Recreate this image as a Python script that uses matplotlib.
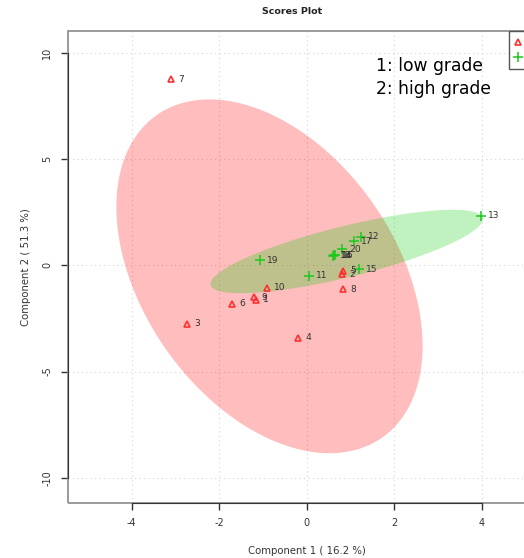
import numpy as np
import matplotlib
matplotlib.use('Agg')
import matplotlib.pyplot as plt
from matplotlib.lines import Line2D
from matplotlib.patches import Rectangle

# scores (component 1, component 2)
low_ids = ['1', '2', '3', '4', '5', '6', '7', '8', '9', '10']
low_x = [-1.16, 0.81, -2.73, -0.20, 0.83, -1.70, -3.10, 0.83, -1.20, -0.91]
low_y = [-1.63, -0.42, -2.75, -3.41, -0.25, -1.81, 8.76, -1.13, -1.51, -1.05]

high_ids = ['11', '12', '13', '14', '15', '16', '17', '18', '19', '20']
high_x = [0.05, 1.23, 3.97, 0.61, 1.19, 0.64, 1.08, 0.60, -1.08, 0.81]
high_y = [-0.49, 1.33, 2.32, 0.46, -0.19, 0.47, 1.14, 0.45, 0.24, 0.75]

x_ticks = [-4, -2, 0, 2, 4]
y_ticks = [-10, -5, 0, 5, 10]

RED = '#FF3030'
GREEN = '#1EC81E'


def conf_ellipse(x, y, level_t=2.4477, n=200):
    # 95% confidence ellipse from the covariance of the group
    pts = np.column_stack([x, y])
    centre = pts.mean(axis=0)
    cov = np.cov(pts, rowvar=False)
    L = np.linalg.cholesky(cov)
    th = np.linspace(0, 2 * np.pi, n)
    circ = np.vstack([np.cos(th), np.sin(th)])
    e = (L @ circ) * level_t
    return centre[0] + e[0], centre[1] + e[1]


fig = plt.figure(figsize=(5.24, 5.58), dpi=100)
W, H = 524, 558
ax = fig.add_axes([67.7 / W, 1 - 502.7 / H, (546 - 67.7) / W, (502.7 - 31) / H])
ax.set_xlim(-5.46, 5.46)
ax.set_ylim(-11.17, 11.02)

# grid
for t in x_ticks:
    ax.axvline(t, color='#d3d3d3', linestyle=(0, (1, 3)), linewidth=0.8, zorder=0)
for t in y_ticks:
    ax.axhline(t, color='#d3d3d3', linestyle=(0, (1, 3)), linewidth=0.8, zorder=0)

ex, ey = conf_ellipse(low_x, low_y)
ax.fill(ex, ey, color='#FF0000', alpha=0.26, linewidth=0, zorder=1)
ex, ey = conf_ellipse(high_x, high_y)
ax.fill(ex, ey, color='#00CD00', alpha=0.25, linewidth=0, zorder=2)

ax.plot(low_x, low_y, '^', markersize=5, markerfacecolor='none',
        markeredgecolor=RED, markeredgewidth=1.2, linestyle='none', zorder=3)
ax.plot(high_x, high_y, '+', markersize=7, color=GREEN,
        markeredgewidth=1.1, linestyle='none', zorder=3)

for xs, ys, ids in [(low_x, low_y, low_ids), (high_x, high_y, high_ids)]:
    for xv, yv, s in zip(xs, ys, ids):
        ax.annotate(s, (xv, yv), xytext=(5, 0), textcoords='offset points',
                    fontsize=6.6, color='#333333', va='center', ha='left', zorder=4)

# frame: grey box, dark axis lines between the end ticks
for sp in ax.spines.values():
    sp.set_visible(False)
ax.add_patch(Rectangle((0, 0), 1, 1, transform=ax.transAxes, fill=False,
                       edgecolor='#8a8a8a', linewidth=1.2, zorder=5, clip_on=False))
ax.spines['left'].set_visible(True)
ax.spines['bottom'].set_visible(True)
ax.spines['left'].set_bounds(-10, 10)
ax.spines['bottom'].set_bounds(-4, 4)
ax.spines['left'].set_color('#333333')
ax.spines['bottom'].set_color('#333333')
ax.spines['left'].set_zorder(6)
ax.spines['bottom'].set_zorder(6)

ax.set_xticks(x_ticks)
ax.set_yticks(y_ticks)
ax.set_xticklabels([str(t) for t in x_ticks])
ax.set_yticklabels([str(t) for t in y_ticks], rotation=90, va='center')
ax.tick_params(direction='out', length=4.7, width=1, color='#333333',
               labelsize=7, labelcolor='#333333', pad=6.5)

ax.set_xlabel('Component 1 ( 16.2 %)', fontsize=7.3, color='#333333', labelpad=12.5)
ax.set_ylabel('Component 2 ( 51.3 %)', fontsize=7.3, color='#333333', labelpad=8)

fig.text(292 / W, 1 - 12 / H, 'Scores Plot', fontsize=6.8, fontweight='bold',
         ha='center', va='center', color='#222222')

fig.text(376 / W, 1 - 70.7 / H, '1: low grade', fontsize=12.3, va='baseline', color='black')
fig.text(376 / W, 1 - 94.3 / H, '2: high grade', fontsize=12.3, va='baseline', color='black')

handles = [Line2D([], [], marker='^', linestyle='none', markersize=5,
                  markerfacecolor='none', markeredgecolor=RED, markeredgewidth=1.2),
           Line2D([], [], marker='+', linestyle='none', markersize=7,
                  color=GREEN, markeredgewidth=1.1)]
leg = ax.legend(handles, ['1', '2'], loc='upper right', borderaxespad=0,
                fontsize=7, fancybox=False, edgecolor='#555555', framealpha=1,
                borderpad=0.7, handlelength=0.6, handletextpad=1.2, labelspacing=0.5)
leg.get_frame().set_linewidth(1)
leg.set_zorder(7)

fig.savefig('out.png', dpi=100)
